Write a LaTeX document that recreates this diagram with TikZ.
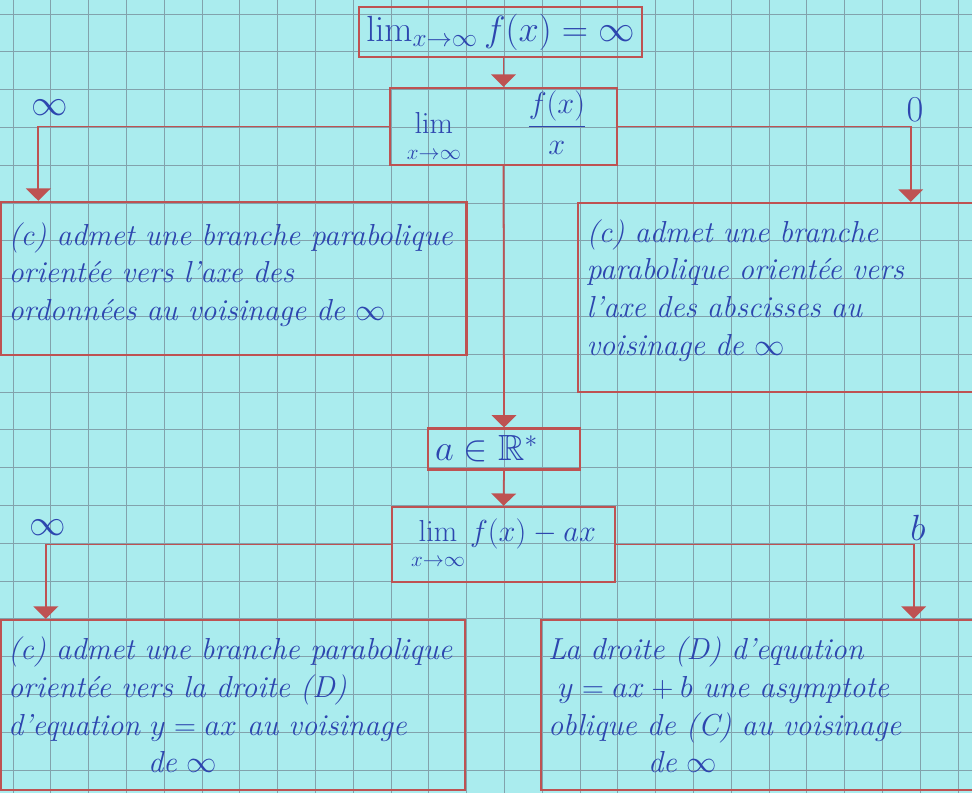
\documentclass[tikz,border=0pt]{standalone}
\usepackage{amsmath,amssymb}
\usetikzlibrary{arrows.meta}

\definecolor{paper}{RGB}{170,236,238}
\definecolor{gridblue}{RGB}{130,162,172}
\definecolor{pen}{RGB}{190,82,82}
\definecolor{ink}{RGB}{45,70,175}

\newcommand{\limlow}{\lim\limits_{\raisebox{-4pt}{$\scriptstyle x\to\infty$}}}

\begin{document}
\begin{tikzpicture}[x=0.02cm, y=-0.02cm,
    box/.style={draw=pen, line width=1.4pt, text=ink, inner sep=4pt},
    note/.style={box, align=left, font=\itshape\fontsize{17.28}{21.5}\selectfont},
    link/.style={draw=pen, line width=1pt, -{Triangle[width=14pt,length=7pt]}},
    lab/.style={text=ink, font=\fontsize{20.74}{24}\selectfont}]
    % squared paper
    \useasboundingbox (0,0) rectangle (972,793);
    \fill[paper] (0,0) rectangle (972,793);
    \clip (0,0) rectangle (972,793);
    \foreach \k in {0,...,25}
        \draw[gridblue, line width=0.5pt] (13+37.8*\k,0) -- (13+37.8*\k,793);
    \foreach \k in {0,...,20}
        \draw[gridblue, line width=0.5pt] (0,14+37.8*\k) -- (972,14+37.8*\k);

    % limits in the middle column
    \node[box, minimum width=5.02cm, minimum height=0.8cm, font=\fontsize{20.74}{22}\selectfont]
        (limf) at (500.5,32) {$\lim_{x\to\infty} f(x) = \infty$};
    \node[box, inner ysep=0.5pt, minimum width=4.54cm, minimum height=1.54cm, text width=4.2cm,
        align=left, font=\fontsize{17.28}{20}\selectfont]
        (limq) at (503.5,126.5) {$\;\limlow\qquad \dfrac{f(x)}{x}$};
    \node[box, minimum width=3.04cm, minimum height=0.76cm, text width=2.76cm, align=left,
        font=\fontsize{20.74}{22}\selectfont] (aR) at (504,449) {$a \in \mathbb{R}^*$};
    \node[box, minimum width=4.46cm, minimum height=1.5cm, font=\fontsize{17.28}{20}\selectfont]
        (lim3) at (503.5,544.5) {$\limlow f(x) - ax$};

    % first branches
    \node[note, minimum width=9.32cm, minimum height=3.06cm, text width=9.0cm]
        (ordo) at (233.5,278.5) {(c) admet une branche parabolique\\
        orientée vers l'axe des\\
        ordonnées au voisinage de $\infty$\\[-13.5pt]\mbox{}};
    \node[note, minimum width=8.24cm, minimum height=3.78cm, text width=7.9cm]
        (absc) at (784,297.5) {(c) admet une branche\\
        parabolique orientée vers\\
        l'axe des abscisses au\\
        voisinage de $\infty$\\[-10pt]\mbox{}};

    % second branches
    \node[note, minimum width=9.28cm, minimum height=3.4cm, text width=9.0cm]
        (parabD) at (233,705) {(c) admet une branche parabolique\\
        orientée vers la droite (D)\\
        d'equation $y = ax$ au voisinage\\
        \hspace*{2.8cm}de $\infty$};
    \node[note, minimum width=8.98cm, minimum height=3.4cm, text width=8.7cm]
        (asymD) at (765.5,705) {La droite (D) d'equation\\
        \hspace*{0.2cm}$y = ax + b$ une asymptote\\
        oblique de (C) au voisinage\\
        \hspace*{2cm}de $\infty$};

    % values of the limits
    \node[lab] (inf1) at (50,108) {$\infty$};
    \node[lab] (zero) at (915,110) {$0$};
    \node[lab] (inf2) at (48,528) {$\infty$};
    \node[lab] (bval) at (918,528) {$b$};

    % arrows
    \draw[link] (limf.south -| limq.north) -- (limq.north);
    \draw[link] (limq.west) -| ([xshift=0.78cm]ordo.north west);
    \draw[link] (limq.east) -| ([xshift=6.68cm]absc.north west);
    \draw[link] (limq.south) -- (aR.north);
    \draw[link] (aR.south) -- (lim3.north);
    \draw[link] (lim3.west) -| ([xshift=0.92cm]parabD.north west);
    \draw[link] (lim3.east) -| ([xshift=7.48cm]asymD.north west);
\end{tikzpicture}
\end{document}
